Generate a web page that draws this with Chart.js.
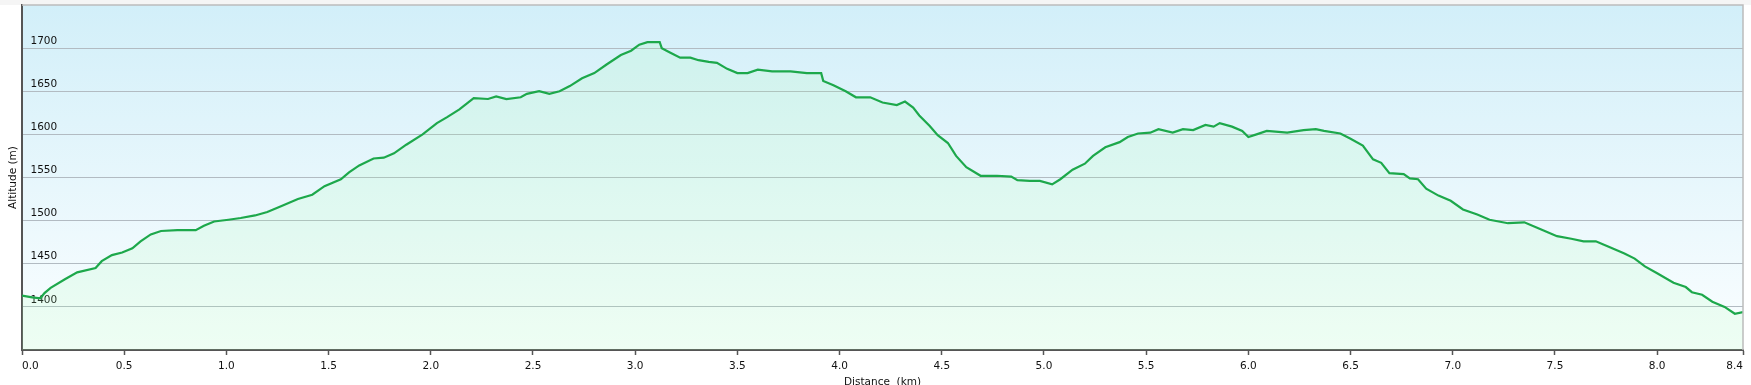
<!DOCTYPE html>
<html>
<head>
<meta charset="utf-8">
<script src="https://cdn.jsdelivr.net/npm/chart.js@4/dist/chart.umd.min.js"></script>
<style>
  html, body { margin: 0; padding: 0; background: #fff; }
  #wrap { width: 1751px; height: 385px; }
</style>
</head>
<body>
<div id="wrap"><canvas id="profile" width="1751" height="385"></canvas></div>
<script>
// distance along the track (km) and altitude (m)
var distanceKm = [
  0.00, 0.05, 0.09, 0.11, 0.14, 0.21, 0.27, 0.36, 0.39, 0.44, 0.49, 0.54, 0.58, 0.63, 0.68, 0.76,
  0.85, 0.89, 0.94, 1.01, 1.07, 1.14, 1.20, 1.27, 1.35, 1.42, 1.48, 1.56, 1.60, 1.65, 1.72, 1.77,
  1.82, 1.88, 1.96, 2.03, 2.08, 2.14, 2.21, 2.28, 2.32, 2.37, 2.44, 2.47, 2.53, 2.58, 2.63, 2.68,
  2.74, 2.80, 2.86, 2.93, 2.98, 3.02, 3.06, 3.12, 3.13, 3.17, 3.22, 3.27, 3.31, 3.36, 3.40, 3.45,
  3.50, 3.55, 3.60, 3.67, 3.76, 3.84, 3.91, 3.92, 3.97, 4.03, 4.08, 4.15, 4.21, 4.28, 4.32, 4.36,
  4.39, 4.44, 4.48, 4.53, 4.57, 4.62, 4.69, 4.77, 4.84, 4.87, 4.93, 4.98, 5.04, 5.08, 5.14, 5.20,
  5.24, 5.30, 5.37, 5.41, 5.46, 5.52, 5.56, 5.63, 5.68, 5.73, 5.79, 5.83, 5.86, 5.92, 5.97, 6.00,
  6.04, 6.09, 6.19, 6.27, 6.33, 6.37, 6.45, 6.50, 6.56, 6.61, 6.65, 6.69, 6.76, 6.79, 6.83, 6.87,
  6.93, 6.99, 7.05, 7.12, 7.18, 7.27, 7.35, 7.43, 7.51, 7.58, 7.64, 7.70, 7.76, 7.84, 7.89, 7.94,
  8.00, 8.08, 8.14, 8.17, 8.22, 8.27, 8.33, 8.38, 8.42
];
var altitudeM = [
  1413, 1411, 1410, 1416, 1422, 1432, 1440, 1445, 1453, 1460, 1463, 1468, 1476, 1484, 1488, 1489,
  1489, 1494, 1499, 1501, 1503, 1506, 1510, 1517, 1525, 1530, 1540, 1548, 1556, 1564, 1572, 1573,
  1578, 1588, 1600, 1613, 1620, 1629, 1642, 1641, 1644, 1641, 1643, 1647, 1650, 1647, 1650, 1656,
  1665, 1671, 1681, 1692, 1697, 1704, 1707, 1707, 1700, 1695, 1689, 1689, 1686, 1684, 1683, 1676,
  1671, 1671, 1675, 1673, 1673, 1671, 1671, 1662, 1657, 1650, 1643, 1643, 1637, 1634, 1638, 1631,
  1622, 1610, 1599, 1590, 1575, 1562, 1552, 1552, 1551, 1547, 1546, 1546, 1542, 1548, 1559, 1566,
  1575, 1585, 1591, 1597, 1601, 1602, 1606, 1602, 1606, 1605, 1611, 1609, 1613, 1609, 1604, 1597,
  1600, 1604, 1602, 1605, 1606, 1604, 1601, 1595, 1587, 1571, 1567, 1555, 1554, 1549, 1548, 1537,
  1529, 1523, 1513, 1507, 1501, 1497, 1498, 1490, 1482, 1479, 1476, 1476, 1470, 1462, 1456, 1447,
  1439, 1428, 1423, 1417, 1414, 1406, 1400, 1392, 1394
];
var xTicks = [0, 0.5, 1, 1.5, 2, 2.5, 3, 3.5, 4, 4.5, 5, 5.5, 6, 6.5, 7, 7.5, 8, 8.42];
var yTicks = [1400, 1450, 1500, 1550, 1600, 1650, 1700];

var points = distanceKm.map(function (d, i) { return { x: d, y: altitudeM[i] }; });

var labelFont = { family: 'DejaVu Sans', size: 10.5 };

// sky gradient behind the plot and the thin frame on top / right
var plotFrame = {
  id: 'plotFrame',
  beforeDraw: function (chart) {
    var ctx = chart.ctx, a = chart.chartArea;
    ctx.save();
    ctx.fillStyle = '#f5f5f5';
    ctx.fillRect(0, 0, chart.width, a.top);
    var g = ctx.createLinearGradient(0, a.top, 0, a.bottom);
    g.addColorStop(0, '#d2eff9');
    g.addColorStop(1, '#fbfeff');
    ctx.fillStyle = g;
    ctx.fillRect(a.left, a.top, a.right - a.left, a.bottom - a.top);
    ctx.restore();
  },
  afterDraw: function (chart) {
    var ctx = chart.ctx, a = chart.chartArea;
    ctx.save();
    ctx.strokeStyle = '#bcbcbc';
    ctx.lineWidth = 1.5;
    ctx.beginPath();
    ctx.moveTo(a.left, a.top);
    ctx.lineTo(a.right, a.top);
    ctx.lineTo(a.right, a.bottom);
    ctx.stroke();
    ctx.restore();
  }
};

new Chart(document.getElementById('profile'), {
  type: 'line',
  data: {
    datasets: [{
      data: points,
      borderColor: '#1da84b',
      borderWidth: 2.2,
      pointRadius: 0,
      tension: 0,
      fill: 'start',
      backgroundColor: 'rgba(160, 255, 170, 0.14)'
    }]
  },
  options: {
    responsive: false,
    devicePixelRatio: 1,
    animation: false,
    layout: { padding: { left: 0, top: 5, right: 8, bottom: 0 } },
    plugins: { legend: { display: false }, tooltip: { enabled: false } },
    scales: {
      x: {
        type: 'linear',
        min: 0,
        max: 8.42,
        afterBuildTicks: function (s) { s.ticks = xTicks.map(function (v) { return { value: v }; }); },
        afterFit: function (s) { s.height = 35; s.paddingLeft = 0; s.paddingRight = 0; },
        grid: { drawOnChartArea: false, tickLength: 5, tickColor: '#555', tickWidth: 1.5 },
        border: { color: '#555', width: 2 },
        ticks: {
          align: 'inner',
          maxRotation: 0,
          autoSkip: false,
          padding: 5,
          color: '#111',
          font: labelFont,
          callback: function (v) { return v.toFixed(1); }
        },
        title: {
          display: true,
          text: 'Distance  (km)',
          color: '#111',
          font: labelFont,
          padding: { top: 0, bottom: -4 }
        }
      },
      y: {
        min: 1350,
        max: 1750,
        z: 1,
        afterBuildTicks: function (s) { s.ticks = yTicks.map(function (v) { return { value: v }; }); },
        afterFit: function (s) { s.width = 22; s.paddingTop = 0; s.paddingBottom = 0; },
        grid: { color: '#b2bbc2', lineWidth: 1, drawTicks: false, z: -1 },
        border: { color: '#555', width: 2 },
        ticks: {
          mirror: true,
          padding: 8.5,
          labelOffset: -7,
          color: '#111',
          font: labelFont,
          callback: function (v) { return String(v); }
        },
        title: {
          display: true,
          text: 'Altitude (m)',
          color: '#111',
          font: labelFont,
          padding: { top: 7, bottom: 0 }
        }
      }
    }
  },
  plugins: [plotFrame]
});
</script>
</body>
</html>
